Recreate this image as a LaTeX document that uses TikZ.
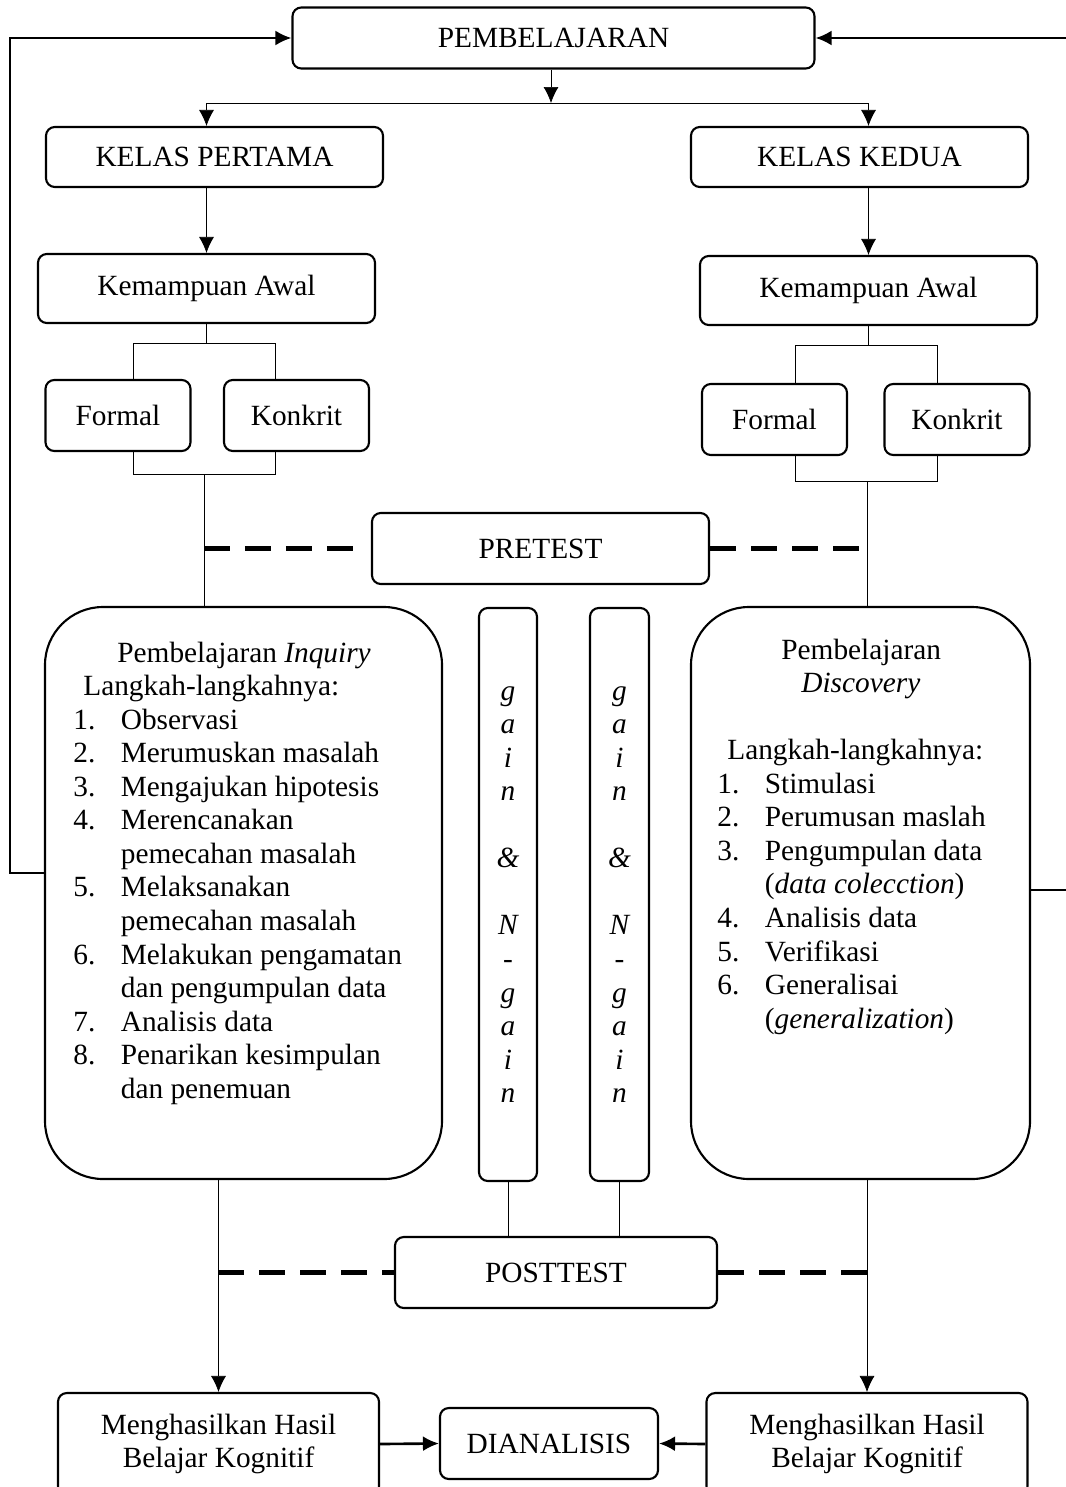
\documentclass[tikz,border=0pt]{standalone}
\usepackage{fontspec}
\setmainfont{Liberation Serif}
\usetikzlibrary{arrows.meta}
\tikzset{>={Latex[length=0.32cm, width=0.3cm]}, line width=1.1pt}
\tikzset{
  kotak/.style={draw, rounded corners=5pt, line width=1.2pt, align=center, inner sep=2pt},
  ukuran/.style 2 args={minimum width=#1*0.02cm, minimum height=#2*0.02cm},
  besar/.style={kotak, rounded corners=1.16cm},
  miring/.style={kotak, font=\huruf\itshape},
  teks/.style={inner sep=0pt, anchor=base west},
  putus/.style={line width=0.1cm, dash pattern=on 0.52cm off 0.3cm},
  panah/.style={->, line width=1.5pt},
}
\newcommand{\huruf}{\fontsize{16.7}{19.1}\selectfont}

\begin{document}
\begin{tikzpicture}[x=0.02cm, y=-0.02cm, every node/.style={font=\huruf}]
  \useasboundingbox (0,0) rectangle (1065,1487);

  % Pembelajaran dan kelas
  \node[kotak, ukuran={522}{61}] (pemb) at (553.5,38) {PEMBELAJARAN};
  \node[kotak, ukuran={337}{60}] (k1) at (214.5,157) {KELAS PERTAMA};
  \node[kotak, ukuran={337}{60}] (k2) at (859.5,157) {KELAS KEDUA};

  % Kemampuan awal
  \node[kotak, ukuran={337}{69}] (km1) at (206.5,288.5) {Kemampuan Awal};
  \node[kotak, ukuran={337}{69}] (km2) at (868.5,290.5) {Kemampuan Awal};
  \node[kotak, ukuran={145}{71}] (f1) at (118,415.5) {Formal};
  \node[kotak, ukuran={145}{71}] (kk1) at (296.5,415.5) {Konkrit};
  \node[kotak, ukuran={145}{71}] (f2) at (774.5,419.5) {Formal};
  \node[kotak, ukuran={145}{71}] (kk2) at (957,419.5) {Konkrit};

  % Tes
  \node[kotak, ukuran={337}{71}] (pre) at (540.5,548.5) {PRETEST};
  \node[kotak, ukuran={322}{71}] (post) at (556,1272.5) {POSTTEST};

  % Model pembelajaran
  \node[besar, ukuran={397}{572}] (inq) at (243.5,893) {};
  \node[besar, ukuran={339}{572}] (disc) at (860.5,893) {};
  \node[miring, ukuran={58}{573}] (g1) at (508,894.5)
    {g\\a\\i\\n\\\mbox{}\\\&\\\mbox{}\\N\\-\\g\\a\\i\\n};
  \node[miring, ukuran={59}{573}] (g2) at (619.5,894.5)
    {g\\a\\i\\n\\\mbox{}\\\&\\\mbox{}\\N\\-\\g\\a\\i\\n};

  \node[teks] (isi1) at (73,662) {\begin{tabular}[t]{@{}p{0.95cm}@{}l@{}}
    \multicolumn{2}{@{}l@{}}{\hspace{0.88cm}Pembelajaran \textit{Inquiry}}\\
    \multicolumn{2}{@{}l@{}}{\hspace{0.2cm}Langkah-langkahnya:}\\
    1. & Observasi\\
    2. & Merumuskan masalah\\
    3. & Mengajukan hipotesis\\
    4. & Merencanakan\\
       & pemecahan masalah\\
    5. & Melaksanakan\\
       & pemecahan masalah\\
    6. & Melakukan pengamatan\\
       & dan pengumpulan data\\
    7. & Analisis data\\
    8. & Penarikan kesimpulan\\
       & dan penemuan
  \end{tabular}};

  \node[teks] (isi2) at (717,659) {\begin{tabular}[t]{@{}p{0.95cm}@{}l@{}}
    \multicolumn{2}{@{}l@{}}{\hspace{1.28cm}Pembelajaran}\\
    \multicolumn{2}{@{}l@{}}{\hspace{1.68cm}\textit{Discovery}}\\
    \mbox{} & \\
    \multicolumn{2}{@{}l@{}}{\hspace{0.2cm}Langkah-langkahnya:}\\
    1. & Stimulasi\\
    2. & Perumusan maslah\\
    3. & Pengumpulan data\\
       & (\textit{data colecction})\\
    4. & Analisis data\\
    5. & Verifikasi\\
    6. & Generalisai\\
       & (\textit{generalization})
  \end{tabular}};

  % Hasil
  \node[kotak, ukuran={321}{102}] (h1) at (218.5,1444) {Menghasilkan Hasil\\Belajar Kognitif};
  \node[kotak, ukuran={218}{71}] (dian) at (549,1443.5) {DIANALISIS};
  \node[kotak, ukuran={321}{102}] (h2) at (867,1444) {Menghasilkan Hasil\\Belajar Kognitif};

  % Panah atas
  \coordinate (cab) at (551,103);
  \draw[->] (pemb.south -| cab) -- (cab);
  \draw[->] (cab) -| (km1 |- k1.north);
  \draw[->] (cab) -| (km2 |- k2.north);
  \draw[->] (k1.south -| km1) -- (km1.north);
  \draw[->] (k2.south -| km2) -- (km2.north);

  % Kurung kiri
  \coordinate (ka1) at (133,343);
  \coordinate (kb1) at (275,343);
  \coordinate (kc1) at (133,474);
  \coordinate (kd1) at (275,474);
  \coordinate (tg1) at (204,474);
  \draw (km1.south) -- (km1.south |- ka1);
  \draw (f1.north -| ka1) -- (ka1) -- (kb1) -- (kk1.north -| kb1);
  \draw (f1.south -| kc1) -- (kc1) -- (kd1) -- (kk1.south -| kd1);
  \draw (tg1) -- (inq.north -| tg1);

  % Kurung kanan
  \coordinate (ka2) at (795,345);
  \coordinate (kb2) at (937,345);
  \coordinate (kc2) at (795,481);
  \coordinate (kd2) at (937,481);
  \coordinate (tg2) at (867.5,481);
  \draw (km2.south) -- (km2.south |- ka2);
  \draw (f2.north -| ka2) -- (ka2) -- (kb2) -- (kk2.north -| kb2);
  \draw (f2.south -| kc2) -- (kc2) -- (kd2) -- (kk2.south -| kd2);
  \draw (tg2) -- (disc.north -| tg2);

  % Garis putus-putus
  \draw[putus, shorten >=0.3cm] (tg1 |- pre.west) -- (pre.west);
  \draw[putus, shorten >=0.16cm] (pre.east) -- (tg2 |- pre.east);
  \draw[putus] (h1 |- post.west) -- (post.west);
  \draw[putus] (post.east) -- (h2 |- post.east);

  % Gain ke posttest
  \draw (g1.south) -- (g1.south |- post.north);
  \draw (g2.south) -- (g2.south |- post.north);

  % Ke hasil
  \draw[->] (inq.south -| h1) -- (h1.north);
  \draw[->] (disc.south -| h2) -- (h2.north);
  \draw[panah] (h1.east) -- (dian.west);
  \draw[panah] (h2.west) -- (dian.east);

  % Umpan balik
  \coordinate (kiri) at (10,873);
  \coordinate (kanan) at (1068,890);
  \draw[panah] (inq.west |- kiri) -- (kiri) |- (pemb.west);
  \draw[panah] (disc.east |- kanan) -- (kanan) |- (pemb.east);
\end{tikzpicture}
\end{document}
